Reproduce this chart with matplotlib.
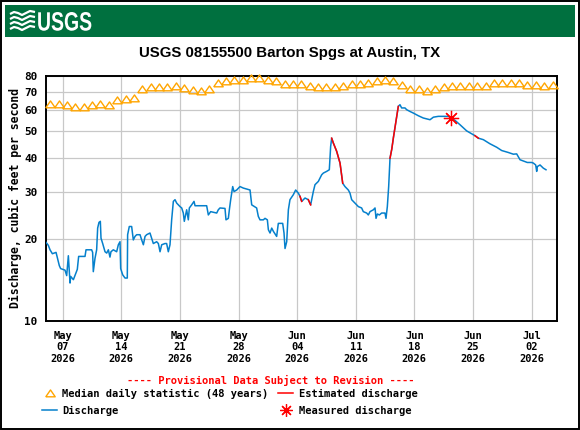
import numpy as np
import pandas as pd
import matplotlib
matplotlib.use('Agg')
import matplotlib.pyplot as plt
import matplotlib.dates as mdates
from matplotlib.patches import Rectangle, PathPatch
from matplotlib.textpath import TextPath
from matplotlib.font_manager import FontProperties
from matplotlib.transforms import Affine2D

# Datos (dias desde 2026-05-05 00:00, caudal en cfs)
inicio = pd.Timestamp('2026-05-05')

mediana_cfs = [63.3, 63.3, 62.4, 61.5, 61.5, 62.4, 63.3, 62.4, 65.1, 65.9,
               66.4, 71.7, 72.9, 72.9, 72.9, 73.3, 72.3, 71.3, 70.3, 71.7,
               75.4, 76.5, 77.2, 77.2, 78.8, 78.8, 77.2, 76.5, 75.0, 74.7,
               75.0, 73.3, 72.9, 72.9, 72.9, 73.8, 75.0, 75.0, 75.4, 76.5,
               77.2, 76.5, 74.4, 71.7, 71.7, 70.7, 71.9, 72.9, 73.3, 73.3,
               73.3, 73.3, 73.3, 75.4, 75.4, 75.4, 75.4, 74.4, 74.4, 73.3,
               74.4]

q_dias = [0.0, 0.28, 0.48, 0.76, 1.2, 1.59, 1.75, 2.27, 2.47, 2.67,
          2.87, 2.95, 3.27, 3.74, 3.90, 4.66, 4.78, 5.45, 5.57, 5.65,
          5.85, 6.05, 6.17, 6.33, 6.49, 6.57, 6.77, 7.05, 7.25, 7.45,
          7.64, 7.76, 8.04, 8.44, 8.64, 8.84, 8.92, 9.16, 9.44, 9.71,
          9.75, 9.95, 10.23, 10.43, 10.63, 10.83, 11.23, 11.43, 11.63, 11.83,
          12.02, 12.42, 12.62, 12.82, 13.22, 13.42, 13.62, 13.82, 14.21, 14.41,
          14.61, 14.81, 15.01, 15.21, 15.41, 15.61, 16.01, 16.21, 16.40, 16.52,
          16.80, 17.00, 17.12, 17.40, 17.68, 17.80, 18.40, 19.19, 19.39, 19.67,
          20.39, 20.58, 20.78, 21.38, 21.50, 21.78, 21.90, 22.06, 22.30, 22.46,
          22.78, 23.17, 23.57, 24.37, 24.57, 25.16, 25.36, 25.56, 25.96, 26.16,
          26.44, 26.56, 26.76, 26.96, 27.16, 27.55, 27.63, 27.75, 28.27, 28.43,
          28.55, 28.75, 28.95, 29.14, 29.54, 29.82, 30.14, 30.34, 30.54, 30.94,
          31.33, 31.61, 31.93, 32.13, 32.53, 32.93, 33.13, 33.52, 33.84, 33.92,
          34.00, 34.12, 34.32, 34.72, 35.12, 35.44, 35.71, 36.11, 36.31, 36.51,
          36.91, 37.31, 37.70, 37.90, 38.30, 38.50, 38.70, 39.10, 39.30, 39.42,
          39.58, 39.82, 40.09, 40.49, 40.61, 40.77, 40.93, 41.09, 41.30, 41.50,
          41.70, 41.90, 42.08, 42.28, 42.48, 42.88, 43.08, 43.48, 43.88, 44.47,
          45.07, 45.87, 46.27, 46.86, 47.46, 48.06, 48.38, 48.85, 49.45, 50.25,
          50.84, 51.24, 51.64, 52.24, 53.03, 53.83, 54.43, 55.22, 55.82, 56.22,
          56.62, 57.21, 57.49, 58.01, 58.21, 58.49, 58.61, 58.69, 59.01, 59.40,
          59.72]

q_cfs = [19.5, 19.0, 18.3, 17.7, 17.9, 16.0, 15.6, 15.4, 14.7, 17.4,
         13.8, 14.6, 14.2, 15.5, 17.3, 17.3, 18.3, 18.3, 17.9, 15.2,
         17.0, 18.3, 22.0, 23.1, 23.3, 20.2, 19.3, 18.0, 17.8, 18.3,
         17.2, 18.0, 18.3, 18.0, 19.1, 19.6, 15.6, 14.8, 14.4, 14.4,
         20.8, 22.3, 22.3, 19.9, 20.5, 20.8, 20.8, 19.9, 19.1, 20.5,
         20.8, 21.1, 20.2, 19.3, 19.6, 19.3, 18.0, 19.1, 19.3, 19.3,
         18.0, 19.1, 23.6, 27.6, 28.0, 27.2, 26.4, 26.1, 25.0, 23.3,
         25.7, 23.6, 26.1, 26.8, 27.6, 26.6, 26.6, 26.6, 24.6, 25.3,
         25.0, 25.7, 26.1, 26.0, 23.6, 23.9, 25.7, 28.0, 31.3, 30.0,
         30.4, 31.3, 30.9, 30.4, 26.8, 26.1, 24.3, 23.6, 23.6, 23.9,
         23.6, 21.7, 21.1, 22.0, 21.4, 20.5, 21.4, 22.9, 22.9, 21.1,
         18.5, 19.6, 25.7, 28.0, 29.2, 30.4, 29.6, 28.8, 27.6, 28.4,
         28.0, 26.8, 30.0, 31.8, 32.7, 34.6, 35.1, 35.6, 36.1, 39.8,
         44.0, 47.2, 45.3, 42.2, 38.2, 32.2, 31.3, 30.4, 29.6, 28.0,
         27.2, 26.4, 26.1, 25.3, 25.0, 24.6, 25.3, 25.7, 26.1, 23.9,
         24.8, 24.6, 25.0, 25.0, 23.9, 26.4, 31.3, 39.8, 43.0, 47.5,
         52.0, 57.0, 61.8, 62.7, 61.0, 61.0, 60.1, 59.2, 58.4, 57.1,
         56.0, 55.2, 56.4, 56.8, 56.8, 56.8, 56.0, 54.9, 52.9, 50.2,
         49.0, 48.2, 47.2, 46.6, 45.0, 43.7, 42.5, 41.8, 41.2, 41.3,
         39.3, 38.7, 38.4, 38.4, 38.2, 37.6, 35.6, 37.1, 37.6, 36.6,
         36.1]

# tramos con caudal estimado (inicio, fin) en dias
estimado_rangos = [(30.34, 30.54), (31.33, 31.61), (34.12, 35.44),
                   (41.09, 42.08), (51.24, 51.64)]

medido_dia = 48.38
medido_cfs = 55.9

ticks_y = [10, 20, 30, 40, 50, 60, 70, 80]
ticks_x = ['2026-05-07', '2026-05-14', '2026-05-21', '2026-05-28', '2026-06-04',
           '2026-06-11', '2026-06-18', '2026-06-25', '2026-07-02']

titulo = 'USGS 08155500 Barton Spgs at Austin, TX'
etiqueta_y = 'Discharge, cubic feet per second'

AZUL = '#0580cc'
NARANJA = '#ffa500'
ROJO = '#ff0000'
VERDE = '#00703f'
MONO = 'DejaVu Sans Mono'
FS = 7.5

tri = [(-1, -0.7), (1, -0.7), (0, 0.75), (-1, -0.7)]

fig = plt.figure(figsize=(5.8, 4.3), dpi=100, facecolor='white')
ax = fig.add_axes([46/580, 1 - 321/430, (556.7 - 46)/580, (321 - 76)/430])

t_q = inicio + pd.to_timedelta(np.array(q_dias), unit='D')
q = np.array(q_cfs)
ax.plot(t_q, q, color=AZUL, lw=1.1, zorder=3)

dias = np.array(q_dias)
for a, b in estimado_rangos:
    m = (dias >= a - 1e-6) & (dias <= b + 1e-6)
    ax.plot(t_q[m], q[m], color=ROJO, lw=1.1, zorder=4)

t_med = inicio + pd.to_timedelta(np.arange(len(mediana_cfs)) + 0.5, unit='D')
ax.plot(t_med, mediana_cfs, ls='none', marker=tri, ms=6.8, mfc='none',
        mec=NARANJA, mew=1.0, clip_on=False, zorder=5)

ax.plot([inicio + pd.to_timedelta(medido_dia, unit='D')], [medido_cfs],
        ls='none', marker=(8, 2, 0), ms=11, mec=ROJO, mew=0.9, zorder=6)

ax.set_yscale('log')
ax.set_ylim(10, 80)
ax.set_yticks(ticks_y)
ax.set_yticklabels([str(v) for v in ticks_y])
ax.yaxis.set_minor_locator(matplotlib.ticker.NullLocator())
ax.set_xlim(inicio, inicio + pd.Timedelta(days=61))
ax.set_xticks([pd.Timestamp(d) for d in ticks_x])
ax.xaxis.set_major_formatter(mdates.DateFormatter('%b\n%d\n%Y'))

ax.grid(True, color='#c8c8c8', lw=0.9)
ax.set_axisbelow(True)
ax.tick_params(length=0, labelsize=FS, pad=6)
ax.tick_params(axis='y', labelsize=7.9)
ax.tick_params(axis='x', pad=7)
for lab in ax.get_xticklabels() + ax.get_yticklabels():
    lab.set_family(MONO)
    lab.set_weight('bold')
for sp in ax.spines.values():
    sp.set_linewidth(1.4)

# capa superior en coordenadas de pixel
ov = fig.add_axes([0, 0, 1, 1], zorder=10)
ov.set_xlim(0, 580)
ov.set_ylim(430, 0)
ov.axis('off')

ov.add_patch(Rectangle((0.8, 0.8), 578.4, 428.4, fill=False, ec='black', lw=1.4))
ov.add_patch(Rectangle((5, 5), 570, 31.5, fc=VERDE, ec='none'))

# logo USGS
tp = TextPath((0, 0), 'USGS', size=27,
              prop=FontProperties(family='Liberation Sans', weight='bold'))
ov.add_patch(PathPatch(tp, fc='white', ec='none',
                       transform=Affine2D().scale(0.72, -0.98).translate(37, 30.5) + ov.transData))
for y0 in [14, 19, 24, 29]:
    ov.plot([10, 14, 18, 22, 26, 30, 35], [y0, y0 - 2, y0 - 1, y0 + 1, y0 - 1, y0 - 3, y0 - 2],
            color='white', lw=1.6, solid_capstyle='butt')

ov.text(290, 53, titulo, ha='center', va='center', fontsize=10.8,
        family='Liberation Sans', weight='bold')
ov.text(15, 198.5, etiqueta_y, rotation=90, ha='center', va='center',
        fontsize=8.3, family=MONO, weight='bold')

ov.text(270.5, 380, '---- Provisional Data Subject to Revision ----', ha='center',
        va='center', fontsize=FS, family=MONO, weight='bold', color=ROJO)

ov.plot([50], [393], ls='none', marker=tri, ms=6.8, mfc='none', mec=NARANJA, mew=1.0)
ov.text(62.5, 393.5, 'Median daily statistic (48 years)', va='center', fontsize=FS,
        family=MONO, weight='bold')
ov.plot([278, 293], [393, 393], color=ROJO, lw=1.1)
ov.text(299, 393.5, 'Estimated discharge', va='center', fontsize=FS, family=MONO, weight='bold')
ov.plot([41.5, 57], [410, 410], color=AZUL, lw=1.1)
ov.text(62.5, 410.5, 'Discharge', va='center', fontsize=FS, family=MONO, weight='bold')
ov.plot([286], [410], ls='none', marker=(8, 2, 0), ms=9, mec=ROJO, mew=0.9)
ov.text(299, 410.5, 'Measured discharge', va='center', fontsize=FS, family=MONO, weight='bold')

fig.savefig('out.png', dpi=100)
